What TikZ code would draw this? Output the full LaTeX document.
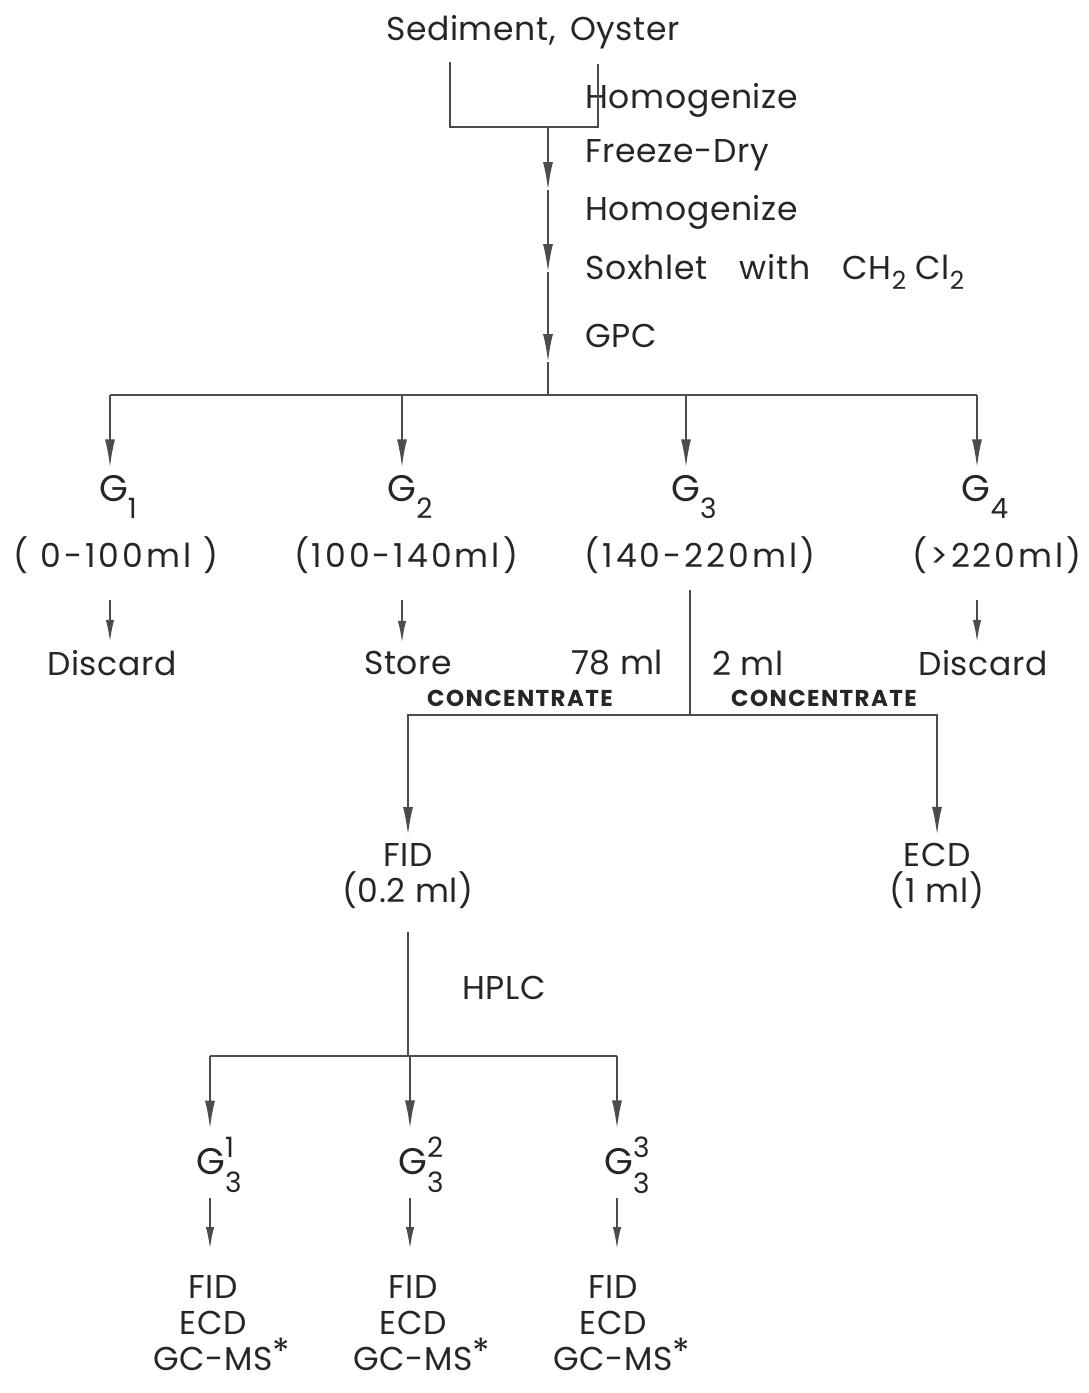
\documentclass[tikz,border=0pt]{standalone}
\usepackage{fontspec}
\setmainfont{Poppins}[LetterSpace=2]
\usetikzlibrary{arrows.meta, positioning}

\newcommand{\lowsub}[1]{\raisebox{-0.6ex}{\fontsize{12.5}{13}\selectfont #1}}
\newcommand{\gsub}[1]{G\raisebox{-0.8ex}{\fontsize{14}{14}\selectfont #1}}
\newcommand{\gfrac}[2]{G\makebox[0pt][l]{\raisebox{0.85ex}{\fontsize{14}{14}\selectfont #1}}\raisebox{-0.9ex}{\fontsize{14}{14}\selectfont #2}}
\newcommand{\gcstar}{\rlap{\raisebox{0.35ex}{\fontsize{18}{18}\selectfont *}}}

\begin{document}
\begin{tikzpicture}[x=0.5pt, y=-0.5pt,
    font=\fontsize{16.5}{18}\selectfont,
    line/.style={draw=black!70, line width=0.9pt},
    bigarrow/.style={line, -{Latex[length=14pt, width=5pt]}, shorten >=3pt},
    smallarrow/.style={line, -{Latex[length=11pt, width=4.2pt]}, shorten >=3pt},
    lbl/.style={text=black!85, inner sep=1pt},
    glbl/.style={lbl, font=\fontsize{18.5}{20}\selectfont},
    vol/.style={lbl, font=\fontsize{16.5}{18}\selectfont\addfontfeature{LetterSpace=9}},
    caps/.style={lbl, font=\fontsize{11.5}{12}\selectfont\bfseries\addfontfeature{LetterSpace=6}}]
    % Rahmen
    \fill[white] (0,0) rectangle (1088,1393);
    \useasboundingbox (0,0) rectangle (1088,1393);

    % Probe und Aufarbeitung
    \node[lbl] (sed) at (533,32) {Sediment,\hspace{0.15em} Oyster};
    \node[lbl, anchor=west] (hom1) at (583,100) {Homogenize};
    \node[lbl, anchor=west] (frz) at (583,155) {Freeze-Dry};
    \node[lbl, anchor=west] (hom2) at (583,212) {Homogenize};
    \node[lbl, anchor=west] (sox) at (583,272) {Soxhlet\hspace{0.7em} with\hspace{0.7em} CH\lowsub{2} Cl\lowsub{2}};
    \node[lbl, anchor=west] (gpc) at (583,336) {GPC};

    \coordinate (bl) at (450,62);
    \coordinate (br) at (598,64);
    \coordinate (j1) at (548,127);
    \coordinate (a1) at (548,190);
    \coordinate (a2) at (548,272);
    \coordinate (a3) at (548,362);
    \coordinate (j2) at (548,395);
    \draw[line] (bl) |- (j1) -| (br);
    \draw[bigarrow, shorten >=0pt] (j1) -- (a1);
    \draw[bigarrow, shorten >=0pt] (a1) -- (a2);
    \draw[bigarrow, shorten >=0pt] (a2) -- (a3);
    \draw[line] (a3) -- (j2);

    % GPC-Fraktionen
    \node[glbl] (g1) at (118,497) {\gsub{1}};
    \node[glbl] (g2) at (410,497) {\gsub{2}};
    \node[glbl] (g3) at (694,497) {\gsub{3}};
    \node[glbl] (g4) at (985,497) {\gsub{4}};
    \node[vol] (r1) at (116,555) {( 0-100ml )};
    \node[vol] (r2) at (406,555) {(100-140ml)};
    \node[vol] (r3) at (700,555) {(140-220ml)};
    \node[vol] (r4) at (997,555) {(>220ml)};

    \coordinate (t1) at (110,395);
    \coordinate (t2) at (402,395);
    \coordinate (t3) at (686,395);
    \coordinate (t4) at (977,395);
    \draw[line] (t1) -- (t4);
    \draw[bigarrow] (t1) -- (t1 |- g1.north);
    \draw[bigarrow] (t2) -- (t2 |- g2.north);
    \draw[bigarrow] (t3) -- (t3 |- g3.north);
    \draw[bigarrow] (t4) -- (t4 |- g4.north);

    \node[lbl] (dis1) at (112,663) {Discard};
    \node[lbl] (store) at (408,663) {Store};
    \node[lbl] (ml78) at (617,663) {78 ml};
    \node[lbl] (ml2) at (748,663) {2 ml};
    \node[lbl] (dis2) at (983,663) {Discard};

    \coordinate (s1) at (110,600);
    \coordinate (s2) at (402,600);
    \coordinate (s4) at (977,600);
    \draw[smallarrow] (s1) -- (s1 |- dis1.north);
    \draw[smallarrow] (s2) -- (s2 |- store.north);
    \draw[smallarrow] (s4) -- (s4 |- dis2.north);

    % Aufteilung von G3
    \node[caps] (conc1) at (520,698) {CONCENTRATE};
    \node[caps] (conc2) at (824,698) {CONCENTRATE};
    \node[lbl] (fid) at (408,855) {FID};
    \node[lbl] (fidv) at (408,890) {(0.2 ml)};
    \node[lbl] (ecd) at (937,855) {ECD};
    \node[lbl] (ecdv) at (937,890) {(1 ml)};

    \coordinate (c0) at (690,590);
    \coordinate (c1) at (690,715);
    \draw[line] (c0) -- (c1);
    \draw[bigarrow] (c1) -| (fid.north);
    \draw[bigarrow] (c1) -| (ecd.north);

    % HPLC
    \node[lbl, anchor=west] (hplc) at (460,988) {HPLC};
    \coordinate (h0) at (408,932);
    \coordinate (h1) at (408,1056);
    \coordinate (k1) at (210,1056);
    \coordinate (k2) at (410,1056);
    \coordinate (k3) at (617,1056);
    \draw[line] (h0) -- (h1);
    \draw[line] (k1) -- (k3);

    \node[glbl] (g31) at (219,1165) {\gfrac{1}{3}};
    \node[glbl] (g32) at (421,1165) {\gfrac{2}{3}};
    \node[glbl] (g33) at (627,1165) {\gfrac{3}{3}};
    \draw[bigarrow] (k1) -- (k1 |- g31.north);
    \draw[bigarrow] (k2) -- (k2 |- g32.north);
    \draw[bigarrow] (k3) -- (k3 |- g33.north);

    \node[lbl, align=center] (d1) at (213,1323) {FID\\ECD\\GC-MS\gcstar};
    \node[lbl, align=center] (d2) at (413,1323) {FID\\ECD\\GC-MS\gcstar};
    \node[lbl, align=center] (d3) at (613,1323) {FID\\ECD\\GC-MS\gcstar};

    \coordinate (u1) at (210,1198);
    \coordinate (u2) at (410,1198);
    \coordinate (u3) at (617,1198);
    \draw[smallarrow, shorten >=12pt] (u1) -- (u1 |- d1.north);
    \draw[smallarrow, shorten >=12pt] (u2) -- (u2 |- d2.north);
    \draw[smallarrow, shorten >=12pt] (u3) -- (u3 |- d3.north);
\end{tikzpicture}
\end{document}
